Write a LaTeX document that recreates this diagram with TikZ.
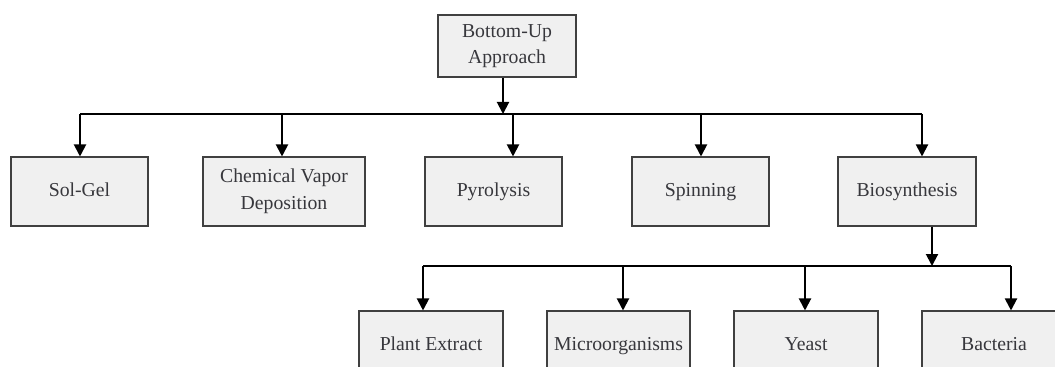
\documentclass[tikz,border=0pt]{standalone}
\usepackage{fontspec}
\setmainfont{Liberation Serif}
\usetikzlibrary{arrows.meta}

\definecolor{boxfill}{RGB}{240,240,240}
\definecolor{boxline}{RGB}{64,64,64}
\definecolor{txt}{RGB}{55,55,60}

\tikzset{every picture/.style={line width=0.75pt}}
\tikzset{
  stage/.style={draw=boxline, fill=boxfill, line width=0.8pt, inner sep=0.75pt, align=center,
    text=txt, font=\fontsize{14.8}{20}\selectfont, minimum height=51.75pt},
  oneline/.style={text height=10pt, text depth=3pt},
  feed/.style={line width=1.5pt, -{Triangle[width=9pt,length=9pt]}},
  bar/.style={line width=1.5pt}
}

\begin{document}
\begin{tikzpicture}[x=0.75pt,y=0.75pt,yscale=-1,xscale=1]
		\useasboundingbox (0,0) rectangle (1055,367);
		\clip (0,0) rectangle (1055,367);

		%Shape: top box
		\node [stage, minimum width=103.5pt, minimum height=46.5pt] (top) at (507,46) {Bottom-Up\\Approach};

		%Shape: methods
		\node [stage, oneline, minimum width=102.75pt] (solgel) at (79.5,191.5) {Sol-Gel};
		\node [stage, minimum width=121.5pt] (cvd) at (284,191.5) {Chemical Vapor\\Deposition};
		\node [stage, oneline, minimum width=102.75pt] (pyro) at (493.5,191.5) {Pyrolysis};
		\node [stage, oneline, minimum width=102.75pt] (spin) at (700.5,191.5) {Spinning};
		\node [stage, oneline, minimum width=103.5pt] (bio) at (907,191.5) {Biosynthesis};

		%Shape: biosynthesis sources
		\node [stage, oneline, minimum width=108pt] (plant) at (431,345.5) {Plant Extract};
		\node [stage, oneline, minimum width=107.25pt] (micro) at (618.5,345.5) {Microorganisms};
		\node [stage, oneline, minimum width=108pt] (yeast) at (806,345.5) {Yeast};
		\node [stage, oneline, minimum width=108pt] (bact) at (994,345.5) {Bacteria};

		%first level
		\coordinate (hub1) at (503,114);
		\coordinate (bar1w) at (80,114);
		\coordinate (bar1e) at (922,114);
		\draw [feed] (top.south -| hub1) -- (hub1);
		\draw [bar] (bar1w) -- (bar1e);
		\foreach \n/\x in {solgel/80, cvd/282, pyro/513, spin/701, bio/922}{
			\coordinate (to\n) at (\x,114);
			\draw [feed] (to\n) -- (to\n |- \n.north);
		}

		%second level
		\coordinate (hub2) at (932,266);
		\coordinate (bar2w) at (423,266);
		\coordinate (bar2e) at (1011,266);
		\draw [feed] (bio.south -| hub2) -- (hub2);
		\draw [bar] (bar2w) -- (bar2e);
		\foreach \n/\x in {plant/423, micro/623, yeast/805, bact/1011}{
			\coordinate (to\n) at (\x,266);
			\draw [feed] (to\n) -- (to\n |- \n.north);
		}

\end{tikzpicture}
\end{document}
